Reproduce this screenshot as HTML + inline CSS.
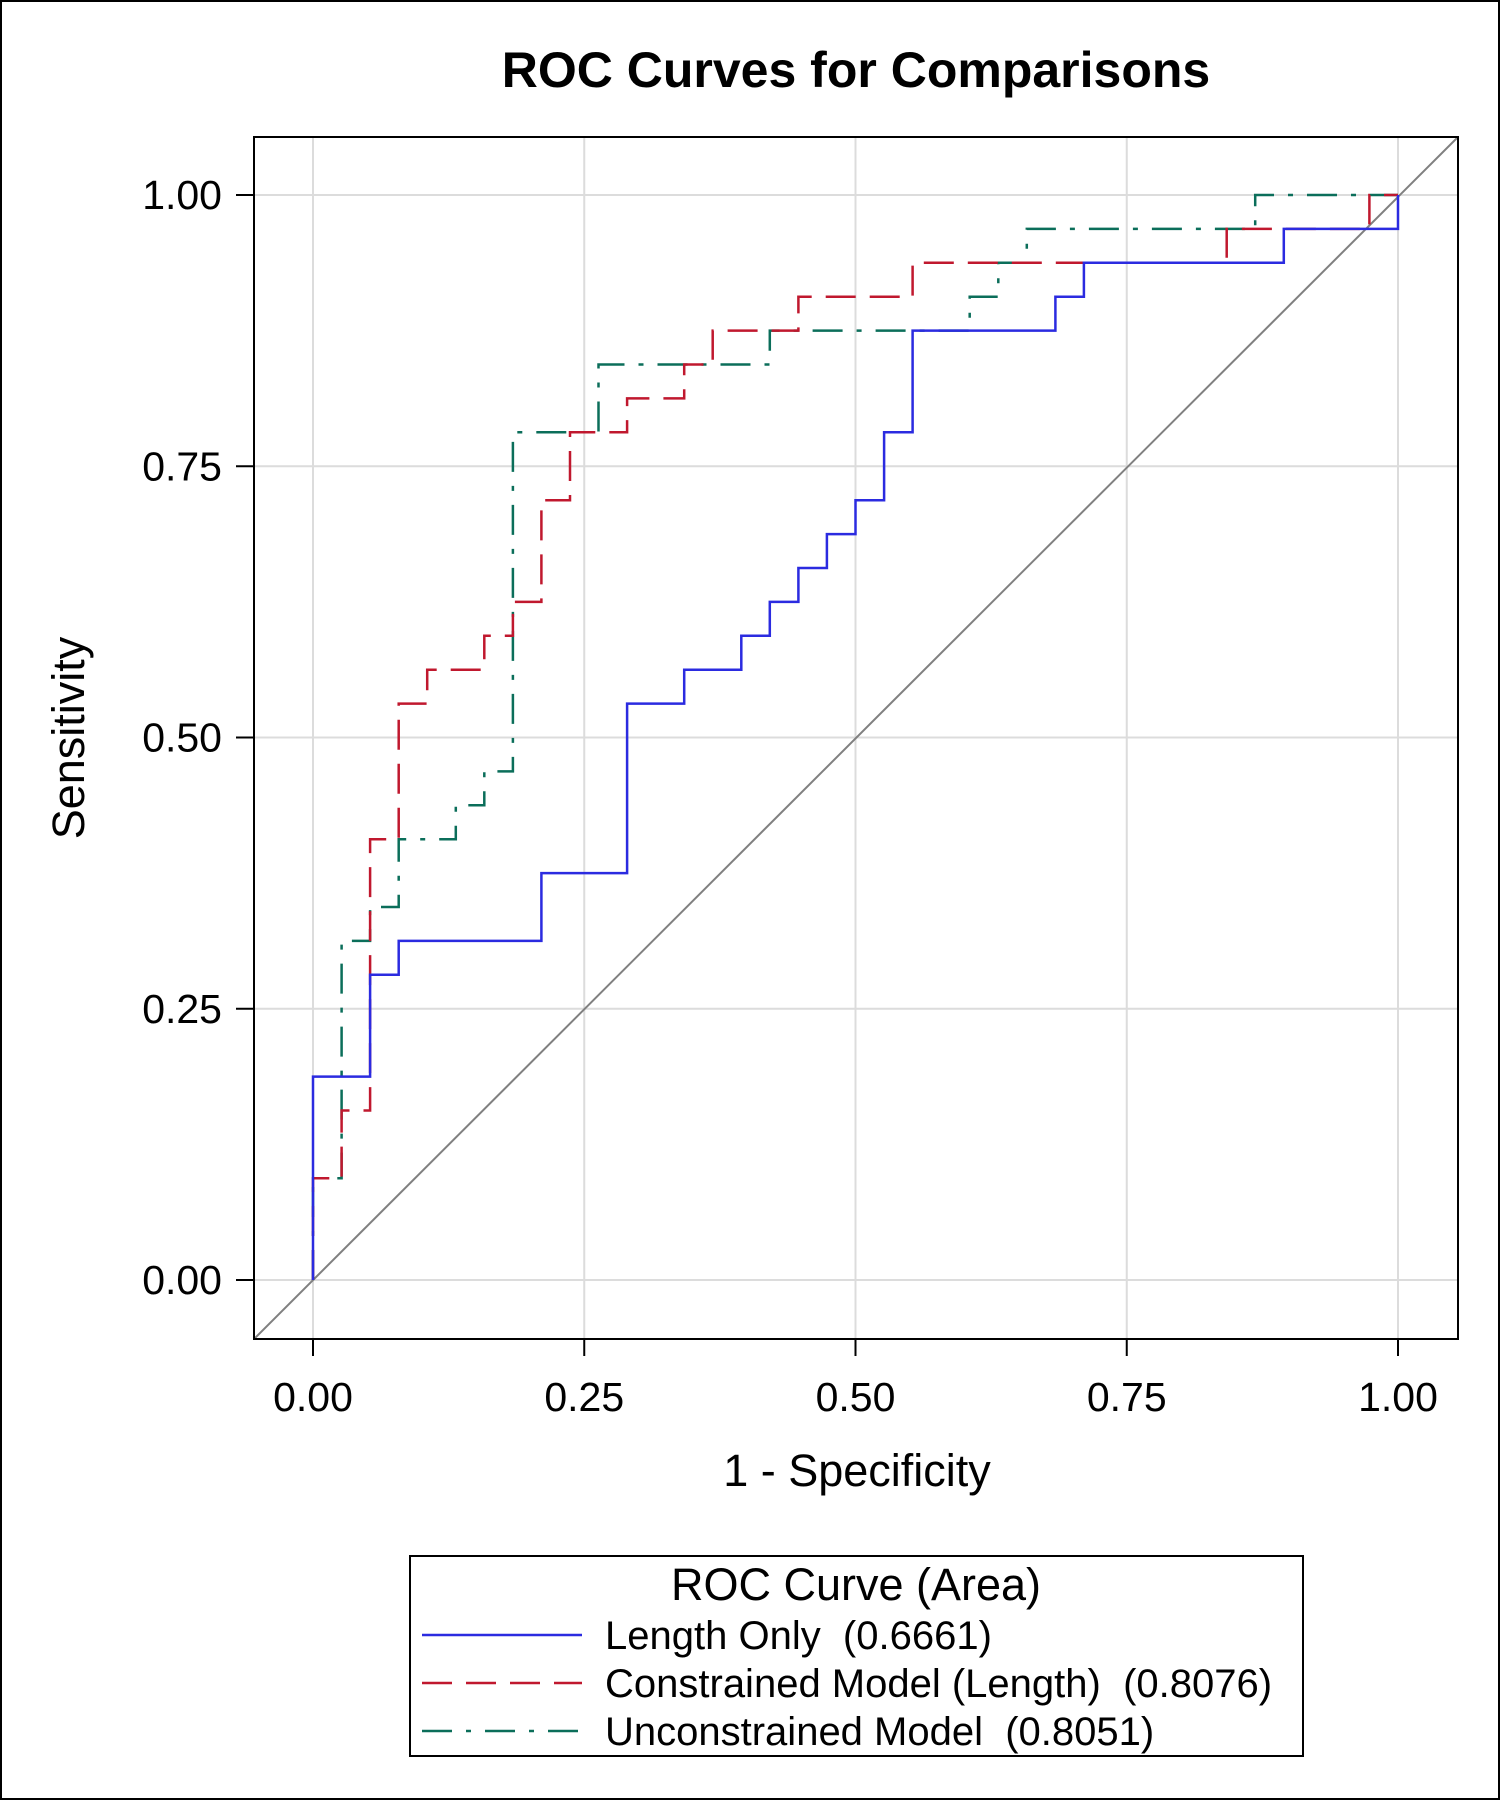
<!DOCTYPE html>
<html><head><meta charset="utf-8"><style>
html,body{margin:0;padding:0;background:#fff}
svg{display:block;font-family:"Liberation Sans",Arial,sans-serif}
text{white-space:pre}
</style></head><body>
<svg id="chart" width="1500" height="1800" viewBox="0 0 1500 1800">
<rect x="1" y="1" width="1498" height="1798" fill="#fff" stroke="#000" stroke-width="2"/>
<text x="856" y="87" text-anchor="middle" font-size="50" font-weight="bold">ROC Curves for Comparisons</text>
<g id="grid"></g>
<g id="plot"></g>
<rect x="254" y="137" width="1204" height="1202" fill="none" stroke="#000" stroke-width="2"/>
<g id="axes"></g>
<text x="0" y="0" transform="translate(84,738) rotate(-90)" text-anchor="middle" font-size="45">Sensitivity</text>
<text x="857" y="1486" text-anchor="middle" font-size="45">1 - Specificity</text>
<g>
<rect x="410" y="1556" width="893" height="200" fill="#fff" stroke="#000" stroke-width="2"/>
<text x="856" y="1600" text-anchor="middle" font-size="45">ROC Curve (Area)</text>
<g>
<line x1="422" y1="1635" x2="582" y2="1635" stroke="#2b2be0" stroke-width="2.5"/>
<text x="605" y="1649" font-size="40" xml:space="preserve">Length Only  (0.6661)</text></g>
<g>
<line x1="422" y1="1683" x2="582" y2="1683" stroke="#c0182e" stroke-width="2.5" stroke-dasharray="30,14"/>
<text x="605" y="1697" font-size="40" xml:space="preserve">Constrained Model (Length)  (0.8076)</text></g>
<g>
<line x1="422" y1="1731" x2="582" y2="1731" stroke="#0b6e5a" stroke-width="2.5" stroke-dasharray="30,14,5,14"/>
<text x="605" y="1745" font-size="40" xml:space="preserve">Unconstrained Model  (0.8051)</text></g>
</g>
</svg>
<script>
// Step points: x in units of 1/38 (1-specificity), y in units of 1/32 (sensitivity)
const ticks = [0, 0.25, 0.5, 0.75, 1.0];
const tickLabels = ["0.00", "0.25", "0.50", "0.75", "1.00"];
const lengthOnlyX = [0,0,2,2,3,3,8,8,11,11,13,13,15,15,16,16,17,17,18,18,19,19,20,20,21,21,26,26,27,27,34,34,38,38];
const lengthOnlyY = [0,6,6,9,9,10,10,12,12,17,17,18,18,19,19,20,20,21,21,22,22,23,23,25,25,28,28,29,29,30,30,31,31,32];
const constrainedX = [0,0,1,1,2,2,3,3,4,4,6,6,7,7,8,8,9,9,11,11,13,13,14,14,17,17,21,21,32,32,37,37,38];
const constrainedY = [0,3,3,5,5,13,13,17,17,18,18,19,19,20,20,23,23,25,25,26,26,27,27,28,28,29,29,30,30,31,31,32,32];
const unconstrainedX = [0,0,1,1,2,2,3,3,5,5,6,6,7,7,10,10,16,16,23,23,24,24,25,25,33,33,38];
const unconstrainedY = [0,3,3,10,10,11,11,13,13,14,14,15,15,25,25,27,27,28,28,29,29,30,30,31,31,32,32];

const NS = "http://www.w3.org/2000/svg";
const xs = v => 313 + v * 1085;
const ys = v => 1280 - v * 1085;
const grid = document.getElementById('grid');
const axes = document.getElementById('axes');
const plot = document.getElementById('plot');
function mk(tag, attrs, parent){const e=document.createElementNS(NS,tag);for(const k in attrs)e.setAttribute(k,attrs[k]);parent.appendChild(e);return e;}

ticks.forEach((t,i)=>{
  const gv = mk('line',{x1:xs(t),x2:xs(t),y1:137,y2:1339,stroke:'#dcdcdc','stroke-width':2},grid);
  
  
  const gh = mk('line',{x1:254,x2:1458,y1:ys(t),y2:ys(t),stroke:'#dcdcdc','stroke-width':2},grid);
  
  
  const tx = mk('line',{x1:xs(t),x2:xs(t),y1:1339,y2:1356,stroke:'#000','stroke-width':2},axes);
  
  
  const ty = mk('line',{x1:236,x2:254,y1:ys(t),y2:ys(t),stroke:'#000','stroke-width':2},axes);
  
  
  const lx = mk('text',{x:xs(t),y:1411,'text-anchor':'middle','font-size':41},axes);
  lx.textContent = tickLabels[i];
  
  
  const ly = mk('text',{x:222,y:ys(t)+14,'text-anchor':'end','font-size':41},axes);
  ly.textContent = tickLabels[i];
  
  
});

const diag = mk('line',{x1:254,y1:1339,x2:1458,y2:137,stroke:'#808080','stroke-width':2},plot);



function curve(X,Y,color,dash,name){
  const pts = X.map((x,i)=>xs(x/38).toFixed(1)+','+ys(Y[i]/32).toFixed(1)).join(' ');
  const p = mk('polyline',{points:pts,fill:'none',stroke:color,'stroke-width':2.5,'stroke-dasharray':dash},plot);
  
  
}
curve(unconstrainedX,unconstrainedY,'#0b6e5a','30,14,5,14','unconstrained-model-curve');
curve(constrainedX,constrainedY,'#c0182e','30,14','constrained-model-curve');
curve(lengthOnlyX,lengthOnlyY,'#2b2be0','none','length-only-curve');
</script>
</body></html>
